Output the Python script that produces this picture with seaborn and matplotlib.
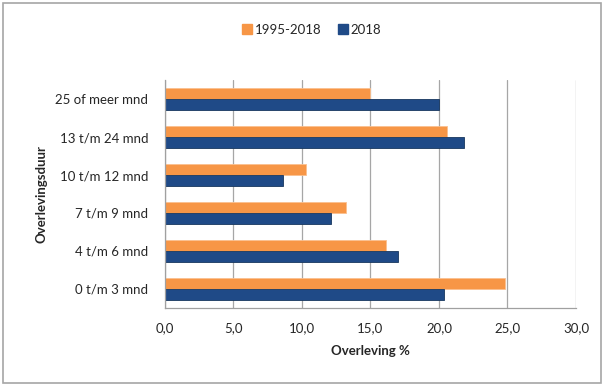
import numpy as np
import pandas as pd
import matplotlib
matplotlib.use("Agg")
import matplotlib.pyplot as plt
from matplotlib.patches import Rectangle
from matplotlib.lines import Line2D
import seaborn as sns

sns.set_style("white")
plt.rcParams['font.family'] = ['Lato', 'DejaVu Sans']

categories = ["25 of meer mnd", "13 t/m 24 mnd", "10 t/m 12 mnd",
              "7 t/m 9 mnd", "4 t/m 6 mnd", "0 t/m 3 mnd"]
series_names = ["1995-2018", "2018"]
vals_1995_2018 = [15.0, 20.6, 10.3, 13.2, 16.1, 24.8]
vals_2018 = [20.0, 21.8, 8.6, 12.1, 17.0, 20.4]
xticks = [0, 5, 10, 15, 20, 25, 30]
colors = {"1995-2018": "#F79646", "2018": "#1F4A87"}

df = pd.DataFrame({
    "duur": categories * 2,
    "serie": [series_names[0]] * len(categories) + [series_names[1]] * len(categories),
    "waarde": vals_1995_2018 + vals_2018,
})

fig = plt.figure(figsize=(6.05, 3.88), dpi=100)
ax = fig.add_axes([0.2727, 0.2062, 0.952 - 0.2727, 0.7938 - 0.2062])

sns.barplot(data=df, y="duur", x="waarde", hue="serie", order=categories,
            hue_order=series_names, palette=colors, orient="h", width=0.56,
            gap=0, saturation=1, ax=ax, legend=False)
for bar, c in zip(ax.patches, ["#FAC090"] * 6 + ["#17375E"] * 6):
    bar.set_edgecolor(c)
    bar.set_linewidth(0.6)

ax.set_xlim(0, 30)
ax.set_ylim(len(categories) - 0.5, -0.5)
ax.set_xticks(xticks)
ax.set_xticklabels([f"{v:.1f}".replace(".", ",") for v in xticks], fontsize=9.5)
ax.tick_params(axis="x", length=4, width=0.8, color="#A0A0A0", direction="out", pad=6)
ax.set_yticks(range(len(categories)))
ax.set_yticklabels(categories, fontsize=9.5)
ax.tick_params(axis="y", which="major", length=0, pad=12)
ax.set_yticks(np.arange(-0.5, len(categories), 1), minor=True)
ax.tick_params(axis="y", which="minor", length=4, width=0.8, color="#A0A0A0", direction="out")
ax.grid(axis="x", color="#A6A6A6", linewidth=0.9)
ax.set_axisbelow(True)
for s in ["top", "right"]:
    ax.spines[s].set_visible(False)
for s in ["left", "bottom"]:
    ax.spines[s].set_color("#A0A0A0")
    ax.spines[s].set_linewidth(0.9)

ax.set_xlabel("Overleving %", fontsize=9.5, fontweight="bold", labelpad=8)
ax.set_ylabel("")
fig.text(0.069, 0.5, "Overlevingsduur", rotation=90, fontsize=9.5,
         fontweight="bold", ha="center", va="center")

handles = [Line2D([], [], marker="s", linestyle="", markersize=7,
                  markerfacecolor=colors[n], markeredgecolor=colors[n]) for n in series_names]
fig.legend(handles, series_names, loc="center", bbox_to_anchor=(0.515, 0.923),
           ncol=2, frameon=False, fontsize=9.5, handlelength=0.8,
           handletextpad=0.2, columnspacing=1.2)

# chart frame
fig.patches.append(Rectangle((3 / 605, 5 / 388), 598 / 605, 380 / 388,
                             transform=fig.transFigure, fill=False,
                             edgecolor="#A6A6A6", linewidth=1.2))

fig.savefig("out.png", dpi=100)
